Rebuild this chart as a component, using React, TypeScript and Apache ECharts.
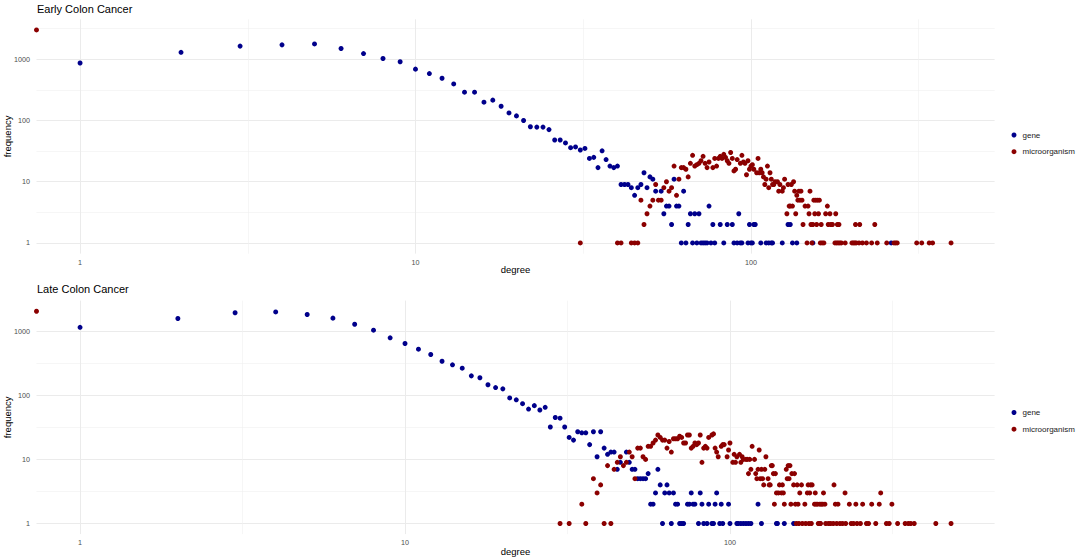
import React, { useEffect, useRef } from "react";
import * as echarts from "echarts";

// ---------- data ----------
const panelTitles = ["Early Colon Cancer", "Late Colon Cancer"];
const seriesNames = ["gene", "microorganism"];
const seriesColors = ["#00008B", "#8B0000"];
const xTickDegrees = [1, 10, 100];
const yTickFrequencies = [1, 10, 100, 1000];

// [degree, frequency]
const earlyGene: number[][] = [
  [1, 870], [2, 1300], [3, 1640], [4, 1720], [5, 1780], [6, 1500], [7, 1240], [8, 1030], [9, 910], [10, 690],
  [11, 584], [12, 490], [13, 396], [14, 290], [15, 290], [16, 199], [17, 215], [18, 171], [19, 133], [20, 119],
  [21, 100], [22, 79], [23, 78], [24, 78], [25, 71], [26, 48], [27, 48], [28, 43], [29, 36], [30, 37],
  [31, 33], [32, 35], [33, 24], [34, 25], [35, 17], [36, 32], [37, 23], [38, 18], [39, 17], [40, 18],
  [41, 9], [42, 9], [43, 9], [44, 8], [45, 6], [46, 8], [47, 9], [48, 14], [49, 8], [50, 12],
  [51, 11], [52, 7], [54, 7], [55, 3], [56, 4], [57, 4], [58, 2], [59, 11], [60, 4], [61, 4],
  [62, 1], [63, 7], [64, 1], [65, 2], [66, 3], [67, 1], [68, 3], [69, 1], [70, 3], [71, 1],
  [72, 1], [73, 1], [74, 1], [75, 4], [76, 1], [77, 2], [78, 1], [81, 2], [83, 1], [85, 2],
  [88, 2], [89, 1], [91, 1], [92, 3], [93, 1], [94, 1], [98, 1], [99, 2], [100, 1], [101, 1],
  [102, 2], [103, 2], [107, 1], [111, 1], [113, 1], [115, 1], [116, 1], [124, 1], [129, 2], [131, 2],
  [133, 1], [137, 1], [153, 1], [262, 1],
];

const earlyMicro: number[][] = [
  [0, 3013],
  [31, 1], [40, 1], [41, 1], [44, 1], [45, 1], [46, 1], [47, 5], [48, 2], [49, 3], [50, 4],
  [51, 5], [52, 9], [53, 5], [54, 5], [55, 8], [56, 10], [57, 7], [58, 8], [59, 18], [60, 6],
  [61, 11], [62, 17], [63, 17], [64, 16], [65, 12], [66, 20], [67, 27], [68, 18], [69, 19], [70, 20],
  [71, 22], [72, 26], [73, 20], [74, 17], [75, 21], [77, 17], [78, 24], [79, 18], [80, 24], [81, 26],
  [82, 24], [83, 28], [84, 25], [85, 22], [86, 20], [87, 30], [88, 24], [89, 15], [90, 16], [91, 23],
  [93, 20], [94, 27], [95, 21], [96, 20], [97, 13], [98, 22], [99, 16], [100, 18], [101, 19], [102, 16],
  [104, 14], [105, 24], [106, 14], [107, 16], [108, 14], [109, 12], [110, 9], [111, 11], [112, 18], [113, 8],
  [114, 14], [115, 11], [116, 9], [117, 9], [118, 10], [120, 10], [121, 7], [122, 9], [124, 7], [125, 8],
  [126, 11], [128, 3], [129, 9], [130, 4], [131, 4], [132, 9], [133, 4], [134, 10], [135, 7], [136, 3],
  [137, 6], [138, 5], [139, 7], [140, 5], [141, 7], [142, 5], [143, 2], [145, 4], [147, 1], [148, 4],
  [149, 3], [150, 7], [151, 2], [152, 1], [153, 2], [154, 5], [155, 3], [156, 5], [157, 2], [158, 5],
  [159, 3], [160, 5], [161, 1], [162, 2], [163, 1], [165, 1], [167, 3], [169, 4], [170, 2], [172, 3],
  [173, 2], [175, 2], [178, 1], [179, 3], [180, 1], [181, 2], [182, 1], [183, 2], [184, 1], [186, 1],
  [191, 1], [200, 1], [202, 1], [204, 1], [205, 2], [206, 1], [210, 1], [211, 2], [215, 1], [221, 1],
  [229, 1], [234, 2], [238, 1], [254, 1], [267, 1], [270, 1], [273, 1], [312, 1], [323, 1], [340, 1],
  [348, 1], [395, 1],
];

const lateGene: number[][] = [
  [1, 1150], [2, 1580], [3, 1940], [4, 2000], [5, 1820], [6, 1600], [7, 1285], [8, 1037], [9, 789], [10, 643],
  [11, 524], [12, 433], [13, 340], [14, 299], [15, 265], [16, 201], [17, 188], [18, 146], [19, 132], [20, 126],
  [21, 91], [22, 85], [23, 74], [24, 61], [25, 69], [26, 59], [27, 65], [28, 32], [29, 45], [30, 44],
  [31, 32], [32, 22], [33, 20], [34, 27], [35, 26], [36, 26], [37, 17], [38, 27], [39, 11], [40, 27],
  [41, 15], [42, 12], [43, 13], [44, 13], [45, 7], [46, 9], [48, 13], [49, 9], [50, 7], [51, 7],
  [52, 5], [53, 5], [54, 5], [55, 5], [56, 6], [57, 2], [58, 2], [59, 3], [60, 7], [61, 4],
  [62, 1], [63, 3], [64, 4], [65, 3], [66, 1], [67, 3], [68, 2], [69, 2], [70, 1], [71, 1],
  [72, 1], [74, 2], [75, 2], [76, 3], [77, 2], [78, 2], [80, 1], [81, 3], [82, 2], [83, 1],
  [85, 1], [86, 2], [88, 1], [89, 1], [90, 2], [91, 3], [93, 1], [94, 2], [95, 1], [99, 2],
  [100, 1], [105, 1], [106, 1], [108, 1], [110, 1], [112, 1], [114, 1], [116, 1], [122, 2], [125, 1],
  [139, 1], [140, 1], [147, 1], [157, 1], [189, 1],
];

const lateMicro: number[][] = [
  [0, 2051],
  [30, 1], [32, 1], [35, 2], [36, 1], [38, 5], [39, 3], [40, 4], [41, 1], [42, 8], [43, 1],
  [44, 7], [45, 9], [46, 11], [47, 8], [48, 9], [49, 13], [50, 11], [51, 5], [52, 15], [53, 15],
  [54, 11], [55, 10], [56, 16], [57, 16], [58, 18], [59, 20], [60, 24], [61, 22], [62, 20], [63, 20],
  [64, 15], [65, 19], [66, 13], [67, 21], [68, 21], [69, 21], [70, 23], [71, 22], [72, 18], [73, 18],
  [74, 24], [75, 24], [76, 15], [77, 16], [78, 18], [79, 17], [80, 18], [81, 24], [82, 9], [83, 15],
  [84, 16], [85, 15], [86, 22], [88, 24], [89, 25], [90, 15], [91, 13], [92, 11], [94, 16], [95, 17],
  [96, 17], [98, 11], [99, 14], [100, 18], [102, 9], [103, 12], [104, 9], [105, 11], [107, 12], [108, 9],
  [109, 11], [110, 10], [112, 10], [113, 10], [114, 6], [115, 10], [116, 7], [117, 16], [119, 10], [120, 6],
  [121, 5], [122, 7], [123, 14], [124, 5], [125, 7], [126, 5], [127, 4], [128, 7], [129, 11], [131, 5],
  [132, 4], [133, 4], [134, 8], [135, 8], [136, 6], [137, 2], [138, 6], [139, 3], [141, 3], [142, 4],
  [144, 3], [145, 4], [146, 3], [147, 2], [149, 7], [150, 5], [151, 8], [152, 5], [153, 8], [154, 2],
  [155, 6], [157, 4], [158, 6], [159, 2], [160, 1], [161, 4], [162, 2], [163, 1], [164, 3], [166, 4],
  [167, 1], [170, 2], [171, 1], [173, 3], [174, 4], [175, 1], [176, 3], [177, 4], [178, 1], [179, 4],
  [182, 2], [183, 3], [184, 2], [186, 2], [187, 1], [189, 2], [190, 1], [191, 2], [193, 2], [194, 3],
  [196, 2], [197, 1], [201, 1], [204, 1], [208, 1], [209, 4], [211, 2], [213, 1], [215, 2], [218, 1],
  [222, 1], [226, 3], [227, 1], [233, 2], [236, 1], [240, 1], [244, 2], [246, 1], [252, 1], [256, 2],
  [263, 1], [267, 1], [273, 2], [281, 1], [288, 2], [291, 3], [303, 1], [309, 1], [315, 2], [328, 1],
  [346, 1], [354, 1], [360, 1], [369, 1], [430, 1], [479, 1],
];

const panelData = [
  [earlyGene, earlyMicro],
  [lateGene, lateMicro],
];

// ---------- layout ----------
const FONT = "'Liberation Sans', Arial, Helvetica, sans-serif";
const gridBoxes = [
  { left: 36.5, right: 89.4, top: 19.3, height: 234.3 },
  { left: 36.5, right: 89.4, top: 300.6, height: 233.5 },
];
const titleTops = [3, 283.5];
const legendTops = [130, 407.5];
const xNameGaps = [11, 12];

const log10 = (v: number) => Math.log10(v);
const expandRange = (vals: number[]) => {
  const lo = Math.min(...vals);
  const hi = Math.max(...vals);
  const pad = (hi - lo) * 0.05;
  return [lo - pad, hi + pad];
};
const fmtPow = (v: number) => String(Math.round(Math.pow(10, v)));

function buildOption() {
  const grids: any[] = [];
  const xAxes: any[] = [];
  const yAxes: any[] = [];
  const series: any[] = [];
  const titles: any[] = [];
  const legends: any[] = [];

  panelData.forEach((sets, i) => {
    const all = sets.flat();
    const [xMin, xMax] = expandRange(all.filter((d) => d[0] > 0).map((d) => log10(d[0])));
    const [yMin, yMax] = expandRange(all.map((d) => log10(d[1])));

    const xMajor = xTickDegrees.map(log10).filter((v) => v >= xMin && v <= xMax);
    const xMinor = xTickDegrees.map((d) => log10(d) + 0.5).filter((v) => v >= xMin && v <= xMax);
    const yMajor = yTickFrequencies.map(log10).filter((v) => v >= yMin && v <= yMax);
    const yMinor = yTickFrequencies.map((d) => log10(d) + 0.5).filter((v) => v >= yMin && v <= yMax);

    grids.push({ ...gridBoxes[i], containLabel: false, outerBoundsMode: "none" });

    const baseX = {
      type: "value",
      gridIndex: i,
      min: xMin,
      max: xMax,
      axisLine: { show: false },
    };
    xAxes.push({
      ...baseX,
      position: "bottom",
      axisTick: { show: false, customValues: xMajor },
      axisLabel: {
        customValues: xMajor,
        formatter: fmtPow,
        fontSize: 7.2,
        color: "#4D4D4D",
        fontFamily: FONT,
        margin: 5,
      },
      splitLine: { show: true, lineStyle: { color: "#EBEBEB", width: 1 } },
      name: "degree",
      nameLocation: "middle",
      nameGap: xNameGaps[i],
      nameMoveOverlap: false,
      nameTextStyle: { fontSize: 9.5, color: "#000", fontFamily: FONT },
    });
    xAxes.push({
      ...baseX,
      position: "top",
      axisTick: { show: false, customValues: xMinor },
      axisLabel: { show: false, customValues: xMinor },
      splitLine: { show: true, lineStyle: { color: "#F0F0F0", width: 0.6 } },
    });

    const baseY = {
      type: "value",
      gridIndex: i,
      min: yMin,
      max: yMax,
      axisLine: { show: false },
    };
    yAxes.push({
      ...baseY,
      position: "left",
      axisTick: { show: false, customValues: yMajor },
      axisLabel: {
        customValues: yMajor,
        formatter: fmtPow,
        fontSize: 7.2,
        color: "#4D4D4D",
        fontFamily: FONT,
        margin: 6.5,
      },
      splitLine: { show: true, lineStyle: { color: "#EBEBEB", width: 1 } },
      name: "frequency",
      nameLocation: "middle",
      nameGap: 24,
      nameRotate: 90,
      nameMoveOverlap: false,
      nameTextStyle: { fontSize: 9.5, color: "#000", fontFamily: FONT },
    });
    yAxes.push({
      ...baseY,
      position: "right",
      axisTick: { show: false, customValues: yMinor },
      axisLabel: { show: false, customValues: yMinor },
      splitLine: { show: true, lineStyle: { color: "#F0F0F0", width: 0.6 } },
    });

    sets.forEach((pts, s) => {
      series.push({
        type: "scatter",
        name: seriesNames[s],
        xAxisIndex: 2 * i,
        yAxisIndex: 2 * i,
        symbol: "circle",
        symbolSize: 5,
        itemStyle: { color: seriesColors[s], opacity: 1 },
        data: pts.map((d) => [d[0] > 0 ? log10(d[0]) : xMin, log10(d[1])]),
        z: 2 + s,
      });
    });

    titles.push({
      text: panelTitles[i],
      left: 37,
      top: titleTops[i],
      padding: 0,
      textStyle: { fontSize: 11, fontWeight: "normal", color: "#000", fontFamily: FONT },
    });

    legends.push({
      orient: "vertical",
      left: 1011.5,
      top: legendTops[i],
      padding: 0,
      itemWidth: 7,
      itemHeight: 5,
      itemGap: 6.7,
      icon: "circle",
      data: seriesNames,
      selectedMode: false,
      textStyle: { fontSize: 8, color: "#1A1A1A", fontFamily: FONT, lineHeight: 10 },
    });
  });

  return {
    animation: false,
    backgroundColor: "#FFFFFF",
    textStyle: { fontFamily: FONT },
    title: titles,
    legend: legends,
    grid: grids,
    xAxis: xAxes,
    yAxis: yAxes,
    series,
  };
}

export default function App() {
  const ref = useRef<HTMLDivElement>(null);
  useEffect(() => {
    if (!ref.current) return;
    const chart = echarts.init(ref.current, undefined, { renderer: "svg" });
    chart.setOption(buildOption() as any);
    return () => chart.dispose();
  }, []);
  return (
    <div
      ref={ref}
      style={{ position: "fixed", left: 0, top: 0, width: 1084, height: 560, background: "#fff" }}
    />
  );
}
